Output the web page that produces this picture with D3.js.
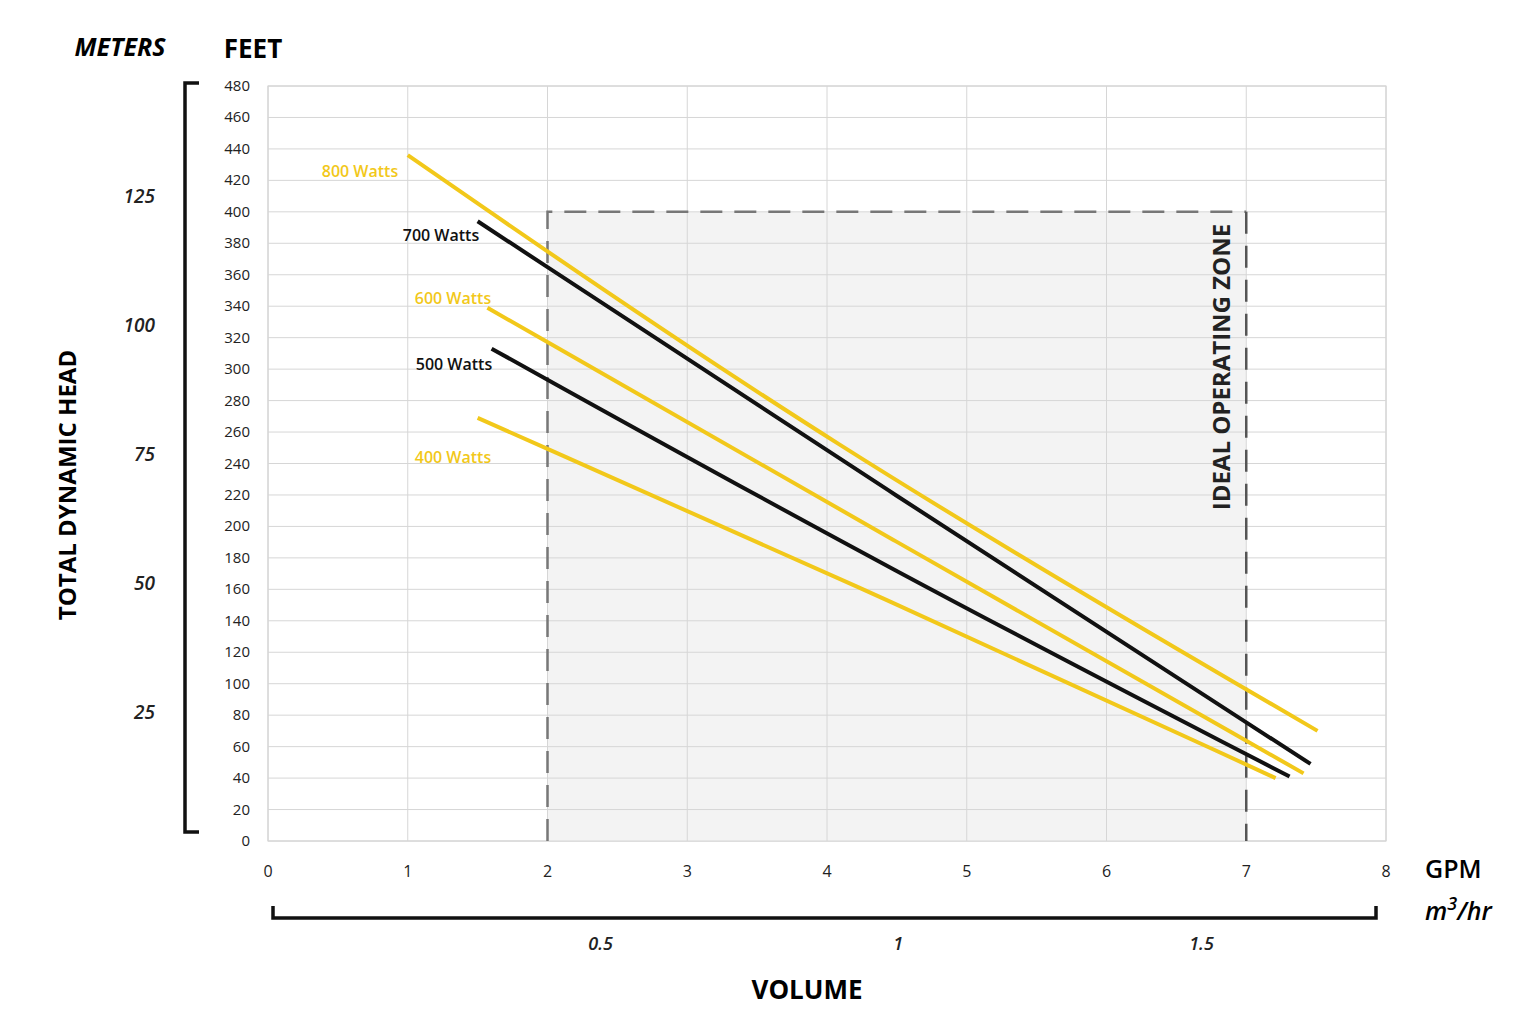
<!DOCTYPE html><html><head><meta charset="utf-8"><script src="https://cdn.jsdelivr.net/npm/d3@7"></script>
<style>body{margin:0;background:#fff;font-family:"Open Sans",sans-serif}</style></head><body><svg id="c" width="1538" height="1024"></svg>
<script>
const gpmTicks=[0,1,2,3,4,5,6,7,8];
const feetTicks=d3.range(0,481,20);
const meterTicks=[25,50,75,100,125];
const m3Ticks=[{label:"0.5",gpm:2.38},{label:"1",gpm:4.51},{label:"1.5",gpm:6.68}];
const series=[
 {name:"800 Watts",color:"#f2c81a",pts:[[1,436],[4,252],[7.51,70]],lab:[360,171]},
 {name:"700 Watts",color:"#111",pts:[[1.5,394],[4.5,219],[7.46,49]],lab:[441,235]},
 {name:"600 Watts",color:"#f2c81a",pts:[[1.57,339],[4.5,190],[7.41,43]],lab:[453,298]},
 {name:"500 Watts",color:"#111",pts:[[1.6,313],[4.5,170],[7.31,41]],lab:[454,364]},
 {name:"400 Watts",color:"#f2c81a",pts:[[1.5,269],[4.5,151],[7.21,40]],lab:[453,457]}
];
const svg=d3.select("#c");
const x=d3.scaleLinear().domain([0,8]).range([268,1386]);
const y=d3.scaleLinear().domain([0,480]).range([841,86]);
svg.append("rect").attr("x",268).attr("y",86).attr("width",1118).attr("height",755).attr("fill","#fff").attr("stroke","#ccc");
// zone
svg.append("rect").attr("x",x(2)).attr("y",y(400)).attr("width",x(7)-x(2)).attr("height",y(0)-y(400)).attr("fill","#f3f3f3");
svg.append("g").selectAll("line").data(feetTicks).join("line").attr("x1",268).attr("x2",1386).attr("y1",d=>y(d)).attr("y2",d=>y(d)).attr("stroke","#d6d6d6");
svg.append("g").selectAll("line").data(gpmTicks).join("line").attr("y1",86).attr("y2",841).attr("x1",d=>x(d)).attr("x2",d=>x(d)).attr("stroke","#d6d6d6");
svg.append("path").attr("d",`M${x(2)},${y(0)}V${y(400)}H${x(7)}`).attr("fill","none").attr("stroke","#777").attr("stroke-width",2.5).attr("stroke-dasharray","22,12");
svg.append("line").attr("x1",x(7)).attr("x2",x(7)).attr("y1",y(400)).attr("y2",y(0)).attr("stroke","#555").attr("stroke-width",2.5).attr("stroke-dasharray","22,12");
svg.append("text").attr("transform",`translate(${x(7)-16},${y(400)+12}) rotate(-90)`).attr("text-anchor","end").attr("font-size",24).attr("font-weight",700).attr("fill","#222").text("IDEAL OPERATING ZONE");
const line=d3.line().x(d=>x(d[0])).y(d=>y(d[1])).curve(d3.curveBasis);
series.forEach(s=>{
 svg.append("path").attr("d",line(s.pts)).attr("fill","none").attr("stroke",s.color).attr("stroke-width",4);
 svg.append("text").attr("x",s.lab[0]).attr("y",s.lab[1]+6).attr("text-anchor","middle").attr("font-size",16).attr("font-weight",600).attr("fill",s.color==="#111"?"#111":"#f2c81a").text(s.name);
});
svg.append("g").selectAll("text").data(feetTicks).join("text").attr("x",250).attr("y",d=>y(d)+5).attr("text-anchor","end").attr("font-size",15).attr("fill","#222").text(d=>d);
svg.append("g").selectAll("text").data(gpmTicks).join("text").attr("x",d=>x(d)).attr("y",877).attr("text-anchor","middle").attr("font-size",16).attr("fill","#222").text(d=>d);
svg.append("g").selectAll("text").data(meterTicks).join("text").attr("x",155).attr("y",d=>y(d*3.28084)+7).attr("text-anchor","end").attr("font-size",19).attr("font-style","italic").attr("font-weight",600).attr("fill","#222").text(d=>d);
svg.append("g").selectAll("text").data(m3Ticks).join("text").attr("x",d=>x(d.gpm)).attr("y",950).attr("text-anchor","middle").attr("font-size",18).attr("font-style","italic").attr("font-weight",600).attr("fill","#222").text(d=>d.label);
svg.append("path").attr("d","M199,83H185V832H199").attr("fill","none").attr("stroke","#111").attr("stroke-width",3.5);
svg.append("path").attr("d","M273,906V918H1376V906").attr("fill","none").attr("stroke","#111").attr("stroke-width",3.5);
svg.append("text").attr("x",120).attr("y",56).attr("text-anchor","middle").attr("font-size",25).attr("font-weight",700).attr("font-style","italic").text("METERS");
svg.append("text").attr("x",253).attr("y",58).attr("text-anchor","middle").attr("font-size",26).attr("font-weight",700).text("FEET");
svg.append("text").attr("transform","translate(76,485) rotate(-90)").attr("text-anchor","middle").attr("font-size",24).attr("font-weight",700).text("TOTAL DYNAMIC HEAD");
svg.append("text").attr("x",807).attr("y",999).attr("text-anchor","middle").attr("font-size",26).attr("font-weight",700).text("VOLUME");
svg.append("text").attr("x",1425).attr("y",878).attr("font-size",25).attr("font-weight",600).text("GPM");
const t=svg.append("text").attr("x",1425).attr("y",920).attr("font-size",25).attr("font-style","italic").attr("font-weight",600);
t.append("tspan").text("m");t.append("tspan").attr("dy",-10).attr("font-size",18).text("3");t.append("tspan").attr("dy",10).text("/hr");
</script></body></html>
